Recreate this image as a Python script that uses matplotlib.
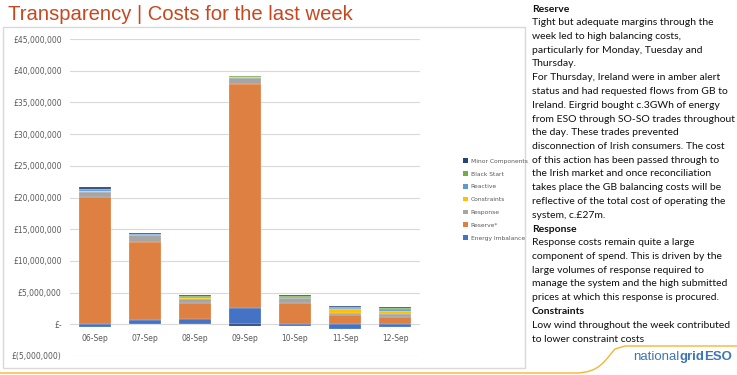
import matplotlib.pyplot as plt
from matplotlib.patches import Patch, Rectangle
from matplotlib.path import Path
from matplotlib.patches import PathPatch
from matplotlib.ticker import FuncFormatter
import numpy as np

# values in £ millions
days = ['06-Sep', '07-Sep', '08-Sep', '09-Sep', '10-Sep', '11-Sep', '12-Sep']
energy_imbalance = [-0.5, 0.7, 0.85, 2.5, -0.3, -0.7, -0.4]
reserve = [20.1, 12.3, 2.45, 35.35, 3.3, 1.5, 1.1]
response = [0.7, 1.1, 0.7, 1.05, 0.8, 0.3, 0.6]
constraints = [0.3, 0.05, 0.1, 0.05, 0.05, 0.55, 0.45]
reactive = [0.2, 0.1, 0.25, 0.05, 0.2, 0.25, 0.2]
black_start = [0.1, 0.05, 0.05, 0.2, 0.05, 0.05, 0.15]
minor = [0.3, 0.1, 0.2, -0.3, 0.15, 0.2, 0.2]

series = [
    ('Energy Imbalance', energy_imbalance, '#4472C4'),
    ('Reserve*', reserve, '#DE8042'),
    ('Response', response, '#A5A5A5'),
    ('Constraints', constraints, '#FFC000'),
    ('Reactive', reactive, '#5B9BD5'),
    ('Black Start', black_start, '#70AD47'),
    ('Minor Components', minor, '#264478'),
]

W, H = 737, 375
fig = plt.figure(figsize=(W / 100, H / 100), dpi=100)

def fx(px):
    return px / W

def fy(py):
    return 1 - py / H

# title
fig.text(fx(8), fy(14), 'Transparency | Costs for the last week', fontsize=14.6,
         color='#C8471F', va='center', ha='left', family='Liberation Sans')

# chart box
fig.patches.append(Rectangle((fx(3), fy(368)), fx(522), (368 - 27) / H,
                             transform=fig.transFigure, fill=False,
                             edgecolor='#D9D9D9', linewidth=1.0))

ax = fig.add_axes([fx(70), fy(356), fx(350), (356 - 39) / H])
x = np.arange(len(days))
pos_bottom = np.zeros(len(days))
neg_bottom = np.zeros(len(days))
for name, vals, col in series:
    v = np.array(vals, dtype=float)
    bottom = np.where(v >= 0, pos_bottom, neg_bottom)
    ax.bar(x, v, 0.65, bottom=bottom, color=col, edgecolor='white',
           linewidth=0.15, zorder=3)
    pos_bottom = pos_bottom + np.where(v > 0, v, 0)
    neg_bottom = neg_bottom + np.where(v < 0, v, 0)

ax.set_ylim(-5, 45)
ax.set_xlim(-0.5, len(days) - 0.5)
ax.set_yticks(np.arange(-5, 46, 5))


def money(v, pos):
    v = int(round(v * 1e6))
    if v == 0:
        return '£-'
    if v < 0:
        return '£({:,})'.format(-v)
    return '£{:,}'.format(v)


ax.yaxis.set_major_formatter(FuncFormatter(money))
ax.set_xticks([])
# category labels sit just under the zero line, as in Excel
for i, d in enumerate(days):
    ax.annotate(d, (i, 0), xytext=(0, -7), textcoords='offset points',
                ha='center', va='top', fontsize=5.5, color='#595959')
ax.tick_params(length=0, labelsize=5.5, colors='#595959', pad=6)
ax.grid(axis='y', color='#D9D9D9', linewidth=0.8, zorder=0)
for s in ax.spines.values():
    s.set_visible(False)

handles = [Patch(facecolor=c, label=n) for n, _, c in series][::-1]
fig.legend(handles=handles, loc='upper left', bbox_to_anchor=(fx(458), fy(153)),
           frameon=False, fontsize=4.3, handlelength=0.8, handleheight=0.8,
           handletextpad=0.4, labelspacing=1.25, labelcolor='#595959')

# commentary on the right
lines = [
    ('Reserve', True),
    ('Tight but adequate margins through the', False),
    ('week led to high balancing costs,', False),
    ('particularly for Monday, Tuesday and', False),
    ('Thursday.', False),
    ('For Thursday, Ireland were in amber alert', False),
    ('status and had requested flows from GB to', False),
    ('Ireland. Eirgrid bought c.3GWh of energy', False),
    ('from ESO through SO-SO trades throughout', False),
    ('the day. These trades prevented', False),
    ('disconnection of Irish consumers. The cost', False),
    ('of this action has been passed through to', False),
    ('the Irish market and once reconciliation', False),
    ('takes place the GB balancing costs will be', False),
    ('reflective of the total cost of operating the', False),
    ('system, c.£27m.', False),
    ('Response', True),
    ('Response costs remain quite a large', False),
    ('component of spend. This is driven by the', False),
    ('large volumes of response required to', False),
    ('manage the system and the high submitted', False),
    ('prices at which this response is procured.', False),
    ('Constraints', True),
    ('Low wind throughout the week contributed', False),
    ('to lower constraint costs', False),
]
for i, (t, bold) in enumerate(lines):
    fig.text(fx(532), fy(9 + i * 13.75), t, fontsize=7.5, family='Lato',
             fontweight='bold' if bold else 'normal', color='#111111',
             va='center', ha='left')

# decorative curve at the bottom right
verts = [(fx(0), fy(373)), (fx(575), fy(373)), (fx(600), fy(373)),
         (fx(605), fy(360)), (fx(615), fy(349)), (fx(625), fy(346)),
         (fx(640), fy(346)), (fx(737), fy(346))]
codes = [Path.MOVETO, Path.LINETO, Path.CURVE4, Path.CURVE4, Path.CURVE4,
         Path.LINETO, Path.LINETO, Path.LINETO]
fig.patches.append(PathPatch(Path(verts, codes), transform=fig.transFigure,
                             fill=False, edgecolor='#F2B632', linewidth=1.0))

# logo text
fig.canvas.draw()
r = fig.canvas.get_renderer()
xpos = fx(633)
for t, w in [('national', 'normal'), ('grid', 'bold'), ('ESO', 'bold')]:
    tx = fig.text(xpos, fy(357), t, fontsize=9.5, color='#3E74B8', fontweight=w,
                  family='Liberation Sans', va='center', ha='left')
    bb = tx.get_window_extent(r)
    xpos += bb.width / W

fig.savefig('out.png', dpi=100)
